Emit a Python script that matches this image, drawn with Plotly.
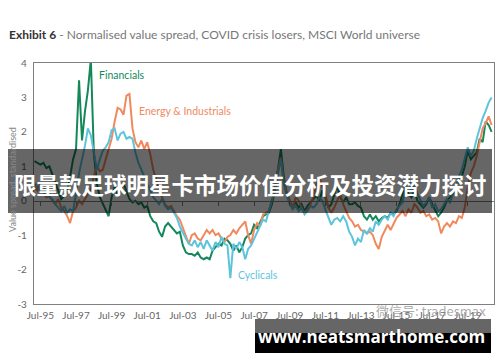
import plotly.graph_objects as go
import pandas as pd

# Bimonthly observations, Mar-1995 .. Nov-2020
dates = pd.date_range("1995-03-01", "2020-11-01", freq="2MS")

financials = [
    1.15, 1.10, 1.05, 1.10, 0.95,
    1.00, 0.75, 0.55, 0.30, 0.05, 0.15,
    0.30, 0.70, 1.20, 1.50, 3.50, 1.75,
    2.60, 3.20, 4.10, 1.40, 0.50, 0.10,
    -0.10, -0.30, -0.45, 0.10, 0.40, 0.20,
    0.30, 0.50, 0.25, 0.05, -0.05, 0.00,
    -0.10, -0.05, -0.20, -0.15, -0.45, -0.60,
    -0.65, -0.90, -1.05, -0.75, -0.65, -0.75,
    -0.85, -0.95, -0.90, -1.30, -1.50, -1.55,
    -1.55, -1.60, -1.50, -1.65, -1.70, -1.65,
    -1.70, -1.45, -1.35, -1.25, -1.30, -1.10,
    -1.15, -1.25, -1.45, -1.30, -1.50, -1.35,
    -1.10, -1.00, -0.95, -0.70, -0.80, -0.60,
    -0.45, -0.40, -0.35, -0.10, 0.30, 0.90,
    1.50, 0.70, 0.20, 0.00, -0.15, -0.05,
    -0.20, -0.10, -0.30, -0.15, -0.05, 0.05,
    0.15, 0.00, 0.30, 0.10, -0.20, -0.10,
    0.20, 0.45, 0.10, -0.05, 0.10, -0.10,
    -0.10, -0.05, -0.15, -0.20, -0.45, -0.55,
    -0.40, -0.55, -0.45, -0.60, -0.50, -0.45,
    -0.50, -0.35, -0.40, -0.30, -0.10, 0.20,
    0.40, 0.20, 0.10, 0.30, 0.00, -0.10,
    -0.20, -0.10, 0.10, -0.10, -0.30, -0.45,
    -0.35, -0.20, 0.00, 0.10, 0.20, 0.40,
    0.60, 0.70, 1.00, 1.45, 1.20, 1.30,
    1.40, 1.80, 1.70, 2.30, 2.20, 2.00,
]

energy_industrials = [
    0.40, 0.30, 0.50, 0.25, 0.10,
    0.15, 0.00, -0.10, 0.05, -0.20, -0.30,
    -0.45, -0.65, -0.30, -0.20, 0.00, -0.10,
    0.05, 0.20, 0.35, 0.70, 1.00, 0.85,
    0.90, 1.20, 1.50, 1.80, 2.30, 2.70,
    2.65, 2.50, 3.05, 3.10, 2.10, 1.70,
    1.55, 1.75, 1.50, 1.70, 1.35, 0.90,
    0.60, 0.30, 0.10, -0.10, -0.20, -0.15,
    -0.30, -0.45, -0.55, -0.80, -1.05, -1.25,
    -1.00, -0.95, -1.10, -1.15, -1.00, -0.85,
    -0.95, -0.85, -1.00, -0.95, -1.10, -1.20,
    -1.05, -1.00, -0.85, -0.95, -0.80, -0.70,
    -0.60, -1.00, -1.25, -0.85, -0.65, -0.75,
    -0.40, -0.35, -0.30, 0.00, 0.40, 0.90,
    1.25, 0.60, 0.25, 0.00, -0.20, 0.10,
    0.00, -0.20, -0.35, -0.25, -0.10, 0.10,
    0.50, 0.70, 0.40, 0.20, -0.20, -0.35,
    -0.20, 0.00, 0.20, -0.10, -0.30, -0.50,
    -0.60, -0.75, -0.70, -0.85, -0.90, -0.95,
    -0.90, -1.00, -1.25, -1.40, -1.05, -0.85,
    -0.70, -0.85, -0.65, -0.50, -0.40, -0.30,
    -0.45, -0.25, -0.35, -0.10, -0.20, -0.35,
    -0.30, -0.45, -0.40, -0.55, -0.50, -0.60,
    -0.95, -0.75, -0.65, -0.75, -0.60, -0.65,
    -0.45, -0.50, -0.20, 0.40, 0.80, 1.00,
    1.30, 1.70, 2.10, 2.25, 2.45, 2.20,
]

cyclicals = [
    0.50, 0.40, 0.30, 0.45, 0.20,
    0.10, 0.05, -0.10, -0.20, -0.30, -0.15,
    -0.35, -0.25, -0.30, 0.20, 0.80, 1.20,
    1.60, 2.10, 1.90, 1.40, 0.90, 1.20,
    1.45, 1.55, 1.70, 2.05, 2.10, 1.75,
    1.95, 2.00, 1.80, 1.85, 1.80, 1.40,
    1.10, 0.90, 0.70, 0.50, 0.30, 0.10,
    0.00, -0.10, 0.05, -0.15, -0.25, -0.20,
    -0.35, -0.50, -0.75, -0.95, -1.10, -1.25,
    -1.30, -1.15, -1.35, -1.20, -1.40, -1.15,
    -1.30, -1.45, -1.20, -1.35, -1.05, -1.25,
    -1.30, -2.25, -1.25, -1.40, -1.20, -1.35,
    -1.70, -1.40, -1.30, -1.10, -0.90, -0.70,
    -0.55, -0.60, -0.30, 0.00, 0.35, 0.80,
    1.20, 0.50, 0.15, -0.10, -0.25, -0.15,
    -0.30, -0.20, -0.40, -0.30, -0.15, -0.20,
    -0.10, 0.10, 0.00, -0.25, -0.45, -0.70,
    -0.55, -0.50, -0.60, -0.45, -0.60, -0.90,
    -1.05, -1.30, -1.10, -1.20, -0.85, -0.95,
    -0.80, -0.90, -0.60, -0.70, -0.55, -0.45,
    -0.55, -0.35, -0.45, -0.25, -0.15, -0.05,
    0.40, 0.70, 0.30, 0.50, 0.20, 0.00,
    -0.15, -0.05, 0.10, -0.20, -0.10, -0.30,
    -0.25, -0.10, 0.05, -0.05, 0.20, 0.35,
    0.70, 0.90, 1.20, 1.55, 1.30, 1.45,
    1.80, 2.10, 2.40, 2.60, 2.85, 3.00,
]

series_names = ["Financials", "Energy & Industrials", "Cyclicals"]
series_colors = ["#14885A", "#F08A5E", "#5EC4DC"]
series_values = [financials, energy_industrials, cyclicals]

x_tick_dates = [f"{y}-07-01" for y in range(1995, 2020, 2)]
x_tick_text = [f"Jul-{str(y)[2:]}" for y in range(1995, 2020, 2)]
y_tick_vals = [-3, -2, -1, 0, 1, 2, 3, 4]
y_tick_text = ["-3", "-2", "-1", "0", "1", "2", "3", "4"]

# label anchor points (date, value)
label_pos = [("1998-09-01", 3.65), ("2000-12-01", 2.6), ("2006-06-15", -2.17)]

title_text = "<b>Exhibit 6</b><span style='color:#777'> - Normalised value spread, COVID crisis losers, MSCI World universe</span>"
banner_text = "限量款足球明星卡市场价值分析及投资潜力探讨"
url_text = "www.neatsmarthome.com"
wm_text = "微信号: tradesmax"

fig = go.Figure()
for name, col, vals in zip(series_names, series_colors, series_values):
    fig.add_trace(go.Scatter(x=dates, y=vals, mode="lines", name=name,
                             line=dict(color=col, width=2), showlegend=False))

W, H = 500, 362
ml, mr, mt, mb = 34, 6, 63, 58
pw, ph = W - ml - mr, H - mt - mb

def px(x):
    return (x - ml) / pw

def py(y):
    return (H - mb - y) / ph

fig.update_layout(
    width=W, height=H,
    margin=dict(l=ml, r=mr, t=mt, b=mb),
    paper_bgcolor="white", plot_bgcolor="white",
    font=dict(family="Lato, sans-serif", color="#555", size=10),
    xaxis=dict(range=["1995-02-20", "2020-12-20"], tickvals=x_tick_dates, ticktext=x_tick_text,
               showgrid=False, zeroline=False, showline=True, linecolor="#808080", linewidth=1.2,
               mirror=True, ticks="", ticklabelstandoff=2, tickfont=dict(size=10, color="#666")),
    xaxis2=dict(range=["1995-02-20", "2020-12-20"], tickvals=x_tick_dates, overlaying="x",
                anchor="free", position=3/7, showgrid=False, zeroline=False, showline=True,
                linecolor="#808080", linewidth=1, ticks="outside", ticklen=4, tickcolor="#808080",
                showticklabels=False),
    yaxis=dict(range=[-3, 4], tickvals=y_tick_vals, ticktext=y_tick_text, showgrid=False,
               zeroline=False, showline=True, linecolor="#808080", linewidth=1.2, mirror=True,
               ticks="", ticklabelstandoff=4, tickfont=dict(size=10, color="#666")),
)

# helper invisible trace so the zero-line axis is drawn
fig.add_trace(go.Scatter(x=[dates[0]], y=[0], xaxis="x2", mode="markers",
                         marker=dict(opacity=0), showlegend=False, hoverinfo="skip"))

for (d, v), name, col in zip(label_pos, series_names, series_colors):
    fig.add_annotation(x=d, y=v, text=name, showarrow=False, xanchor="left", yanchor="middle",
                       font=dict(size=10.5, color=col, family="Lato, sans-serif"))

fig.add_annotation(xref="paper", yref="paper", x=px(7), y=py(35), text=title_text, showarrow=False,
                   xanchor="left", yanchor="middle", font=dict(size=12, color="#333", family="Lato, sans-serif"))
fig.add_annotation(xref="paper", yref="paper", x=px(12), y=py(180), text="Value spread, standardised",
                   textangle=-90, showarrow=False, xanchor="center", yanchor="middle",
                   font=dict(size=9, color="#888"))

# overlay banner
fig.add_shape(type="rect", xref="paper", yref="paper", x0=px(8), x1=px(492), y0=py(213), y1=py(149),
              fillcolor="rgba(0,0,0,0.6)", line=dict(width=0), layer="above")
fig.add_annotation(xref="paper", yref="paper", x=px(250), y=py(184), text=f"<b>{banner_text}</b>",
                   showarrow=False, xanchor="center", yanchor="middle",
                   font=dict(size=22.5, color="white", family="Noto Sans CJK SC"))

# watermark
fig.add_annotation(xref="paper", yref="paper", x=px(431), y=py(310), text=wm_text, showarrow=False,
                   xanchor="center", yanchor="middle",
                   font=dict(size=13, color="rgba(150,150,150,0.8)", family="Noto Sans CJK SC"))

# bottom url box
fig.add_shape(type="rect", xref="paper", yref="paper", x0=px(255), x1=px(491), y0=py(333), y1=py(319),
              fillcolor="rgba(0,0,0,0.6)", line=dict(width=0), layer="above")
fig.add_shape(type="rect", xref="paper", yref="paper", x0=px(255), x1=px(491), y0=py(353), y1=py(333),
              fillcolor="black", line=dict(width=0), layer="above")
fig.add_annotation(xref="paper", yref="paper", x=px(371), y=py(336), text=f"<b>{url_text}</b>",
                   showarrow=False, xanchor="center", yanchor="middle",
                   font=dict(size=17, color="white", family="Open Sans"))

fig.write_html("out.html")
